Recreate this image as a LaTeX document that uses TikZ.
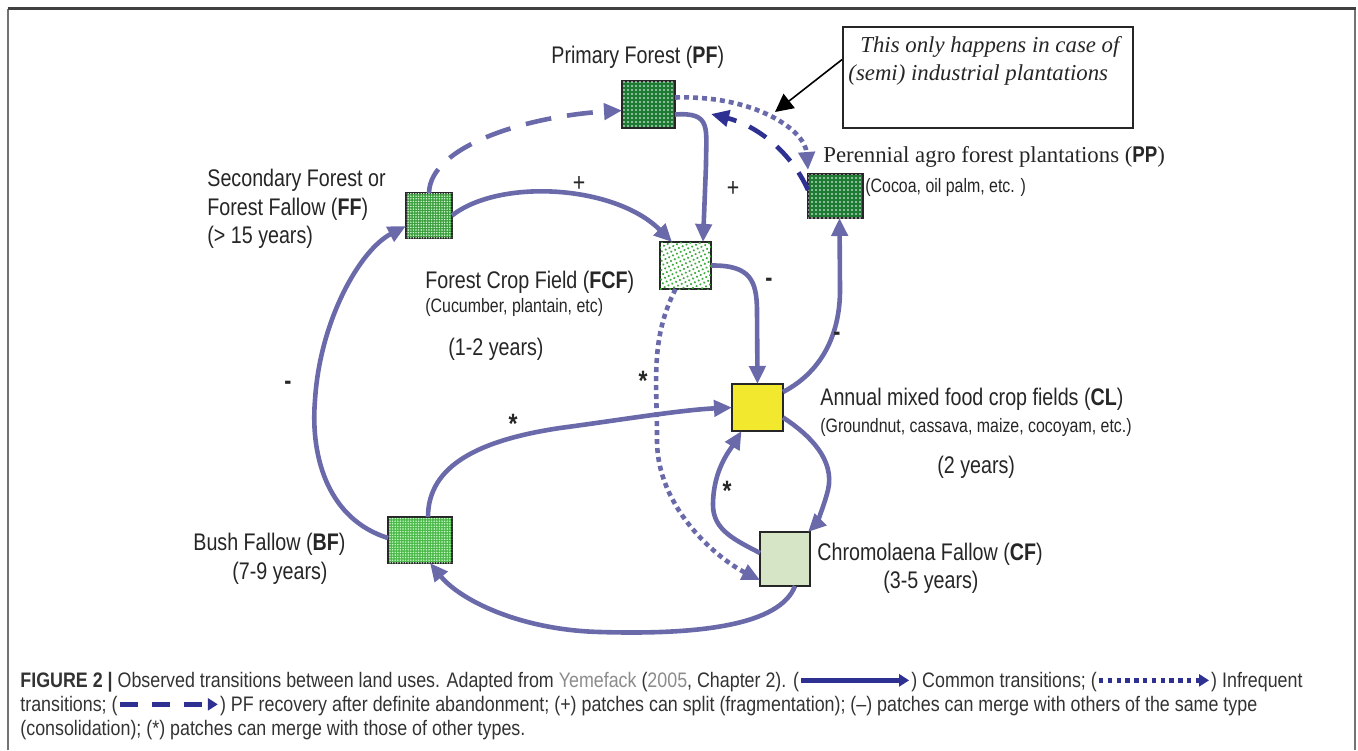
\documentclass[tikz,border=0pt]{standalone}
\usepackage{fontspec}
\setmainfont{Liberation Serif}
\newfontfamily\nar[FakeStretch=0.82]{Liberation Sans}
\newfontfamily\capf[FakeStretch=0.85]{Liberation Sans}
\usetikzlibrary{arrows.meta,patterns.meta}
\definecolor{arrc}{HTML}{6A6AAA}
\definecolor{navyc}{HTML}{2E3192}
\definecolor{pfgreen}{HTML}{1E7B34}
\definecolor{ffgreen}{HTML}{3D9E3F}
\definecolor{bfgreen}{HTML}{4DB84A}
\definecolor{fcfdot}{HTML}{3DAA3D}
\definecolor{clyel}{HTML}{F2E82E}
\definecolor{cfpale}{HTML}{D6E5C6}
\definecolor{capgray}{HTML}{8C8C8C}
\definecolor{captext}{HTML}{333333}
\newcommand{\legsolid}{\tikz[baseline=-0.6ex]\draw[navyc, line width=2.2pt, -{Triangle[length=5pt,width=6pt]}] (0pt,0pt) -- (54pt,0pt);}
\newcommand{\legdot}{\tikz[baseline=-0.6ex]\draw[navyc, line width=2.2pt, dash pattern=on 2.2pt off 2.2pt, -{Triangle[length=5pt,width=6pt]}] (0pt,0pt) -- (55pt,0pt);}
\newcommand{\legdash}{\tikz[baseline=-0.6ex]\draw[navyc, line width=2.2pt, dash pattern=on 9pt off 7pt, -{Triangle[length=5pt,width=6pt]}] (0pt,0pt) -- (49pt,0pt);}
\begin{document}
\begin{tikzpicture}[x=0.5pt,y=-0.5pt,
  lbl/.style={inner sep=0, anchor=base west, text=black!85, font=\nar\fontsize{12}{14}\selectfont},
  sml/.style={inner sep=0, anchor=base west, text=black!85, font=\nar\fontsize{9.7}{11}\selectfont},
  ser/.style={inner sep=0, anchor=base west, text=black!85, font=\fontsize{11.4}{13}\selectfont},
  sgn/.style={inner sep=0, text=black!85, font=\nar\fontsize{13}{14}\selectfont},
  captn/.style={inner sep=0, anchor=base west, text=captext, font=\capf\fontsize{10.5}{12}\selectfont},
  box/.style={inner sep=0, outer sep=0, postaction={draw=black!85, line width=1pt}},
  arr/.style={draw=arrc, line width=2.3pt, -{Triangle[length=9pt,width=8pt]}},
  dotarr/.style={arr, dash pattern=on 2.5pt off 2pt},
  lgdash/.style={arr, dash pattern=on 13pt off 8pt},
  navyarr/.style={draw=navyc, line width=2.3pt, dash pattern=on 10pt off 7pt, -{Triangle[length=9pt,width=8pt]}}
]
\useasboundingbox (0,0) rectangle (1358,750);
\fill[white] (0,0) rectangle (1358,750);
% frame
\draw[black!55, line width=1.1pt] (8,750) -- (8,8.5);
\draw[black!55, line width=1.1pt] (1355,8.5) -- (1355,750);
\draw[black!75, line width=1.1pt] (7.5,8.5) -- (1355.5,8.5);

% boxes
\node[box, fill=pfgreen, postaction={pattern={Dots[radius=0.45pt,distance=2pt]}, pattern color=white}, minimum width=26.5pt, minimum height=23.5pt] (PF) at (648.5,104.5) {};
\node[box, fill=pfgreen, postaction={pattern={Dots[radius=0.45pt,distance=2pt]}, pattern color=white}, minimum width=27.5pt, minimum height=22pt] (PP) at (835.5,196) {};
\node[box, fill=ffgreen, postaction={pattern={Dots[radius=0.4pt,distance=1.3pt]}, pattern color=white!85!green}, minimum width=23pt, minimum height=22.5pt] (FF) at (429,215.5) {};
\node[box, fill=white, postaction={pattern={Dots[radius=0.6pt,distance=2.1pt,angle=25]}, pattern color=fcfdot}, minimum width=25.5pt, minimum height=23.5pt] (FCF) at (685.5,265.5) {};
\node[box, fill=clyel, minimum width=25.5pt, minimum height=23.5pt] (CL) at (757.5,407.5) {};
\node[box, fill=cfpale, minimum width=25pt, minimum height=27pt] (CF) at (785,559) {};
\node[box, fill=bfgreen, postaction={pattern={Dots[radius=0.4pt,distance=1.3pt]}, pattern color=white!80!green}, minimum width=32pt, minimum height=23pt] (BF) at (420,540) {};

% callout
\node[draw=black!85, line width=0.9pt, minimum width=145pt, minimum height=50.5pt, inner sep=0] (CO) at (988,77.5) {};
\node[ser, font=\fontsize{11.4}{13}\selectfont\itshape] (co1) at (860,52) {This only happens in case of};
\node[ser, font=\fontsize{11.4}{13}\selectfont\itshape] (co2) at (848,80) {(semi) industrial plantations};
\coordinate (cotip) at (775,112);
\draw[black, line width=0.8pt, -{Triangle[length=9pt,width=9pt]}] ([yshift=9pt]CO.west) -- (cotip);

% labels
\node[lbl] (pfl) at (551,63) {Primary Forest (\textbf{PF})};
\node[lbl] (ffl1) at (207,186) {Secondary Forest or};
\node[lbl] (ffl2) at (207,215) {Forest Fallow (\textbf{FF})};
\node[lbl] (ffl3) at (207,243) {(> 15 years)};
\node[lbl] (fcfl1) at (425,288) {Forest Crop Field (\textbf{FCF})};
\node[sml] (fcfl2) at (425,312) {(Cucumber, plantain, etc)};
\node[lbl] (fcfl3) at (448,355) {(1-2 years)};
\node[ser] (ppl1) at (823,162) {Perennial agro forest plantations ({\nar\bfseries PP})};
\node[sml] (ppl2) at (865,192) {(Cocoa, oil palm, etc. )};
\node[lbl] (cll1) at (820,405) {Annual mixed food crop fields (\textbf{CL})};
\node[sml] (cll2) at (820,432) {(Groundnut, cassava, maize, cocoyam, etc.)};
\node[lbl] (cll3) at (937,473) {(2 years)};
\node[lbl] (cfl1) at (817,560) {Chromolaena Fallow (\textbf{CF})};
\node[lbl] (cfl2) at (883,588) {(3-5 years)};
\node[lbl] (bfl1) at (193,550) {Bush Fallow (\textbf{BF})};
\node[lbl] (bfl2) at (232,579) {(7-9 years)};

% connectors
\coordinate (PFr) at (711,114);
\draw[lgdash] (FF.north) .. controls (430,145) and (530,116) .. ([yshift=-3pt]PF.west);
\draw[arr] ([yshift=-5pt]PF.east) .. controls (712,112) and (706,128) .. (706,165) -- ([xshift=-4pt]FCF.north east);
\draw[dotarr] ([yshift=3.5pt]PF.east) .. controls (755,95) and (805,130) .. ([yshift=2pt]PP.north west);
\draw[navyarr] ([yshift=3pt]PP.west) .. controls (790,150) and (755,125) .. (PFr);
\draw[arr] (FF.east) .. controls (500,178) and (615,185) .. ([xshift=6pt]FCF.north west);
\draw[arr] (FCF.east) .. controls (750,265) and (757,280) .. (757,312) -- (CL.north);
\draw[arr] ([yshift=-4pt]CL.north east) .. controls (825,370) and (840,330) .. (840,290) -- ([xshift=2pt]PP.south);
\draw[dotarr] ([xshift=-5pt]FCF.south) .. controls (650,340) and (657,380) .. (657,440) .. controls (657,510) and (720,560) .. ([yshift=3pt]CF.south west);
\draw[arr] ([xshift=4pt]BF.north) .. controls (428,465) and (480,440) .. (560,428) .. controls (620,420) and (680,410) .. (CL.west);
\draw[arr] ([yshift=1pt]BF.west) .. controls (330,520) and (310,460) .. (315,400) .. controls (320,320) and (360,250) .. ([yshift=6pt]FF.south west);
\draw[arr] ([yshift=-5pt]CL.east) .. controls (810,435) and (835,460) .. (828,490) .. controls (823,510) and (815,525) .. ([xshift=-1pt]CF.north east);
\draw[arr] ([yshift=3pt]CF.west) .. controls (735,540) and (713,530) .. (713,505) .. controls (713,470) and (730,450) .. ([xshift=-8pt]CL.south);
\draw[arr] ([xshift=5pt]CF.south) .. controls (780,625) and (700,635) .. (600,632) .. controls (520,630) and (460,600) .. ([xshift=5pt]BF.south);

% signs
\node[sgn] (s1) at (579,184) {+};
\node[sgn] (s2) at (733,189) {+};
\node[sgn, font=\nar\fontsize{13}{14}\selectfont\bfseries] (s3) at (769,282) {-};
\node[sgn, font=\nar\fontsize{13}{14}\selectfont\bfseries] (s4) at (837,336) {-};
\node[sgn, font=\nar\fontsize{13}{14}\selectfont\bfseries] (s5) at (288,385) {-};
\node[sgn, font=\nar\fontsize{14}{14}\selectfont\bfseries] (s6) at (643,381) {*};
\node[sgn, font=\nar\fontsize{14}{14}\selectfont\bfseries] (s7) at (513,424) {*};
\node[sgn, font=\nar\fontsize{14}{14}\selectfont\bfseries] (s8) at (727,491) {*};

% caption
\node[captn] (c1) at (20,687) {\textbf{FIGURE 2 |} Observed transitions between land uses. Adapted from \textcolor{capgray}{Yemefack} (\textcolor{capgray}{2005}, Chapter 2). (\legsolid) Common transitions; (\legdot) Infrequent};
\node[captn] (c2) at (20,711) {transitions; (\legdash) PF recovery after definite abandonment; (+) patches can split (fragmentation); (–) patches can merge with others of the same type};
\node[captn] (c3) at (20,735) {(consolidation); (*) patches can merge with those of other types.};
\end{tikzpicture}
\end{document}
